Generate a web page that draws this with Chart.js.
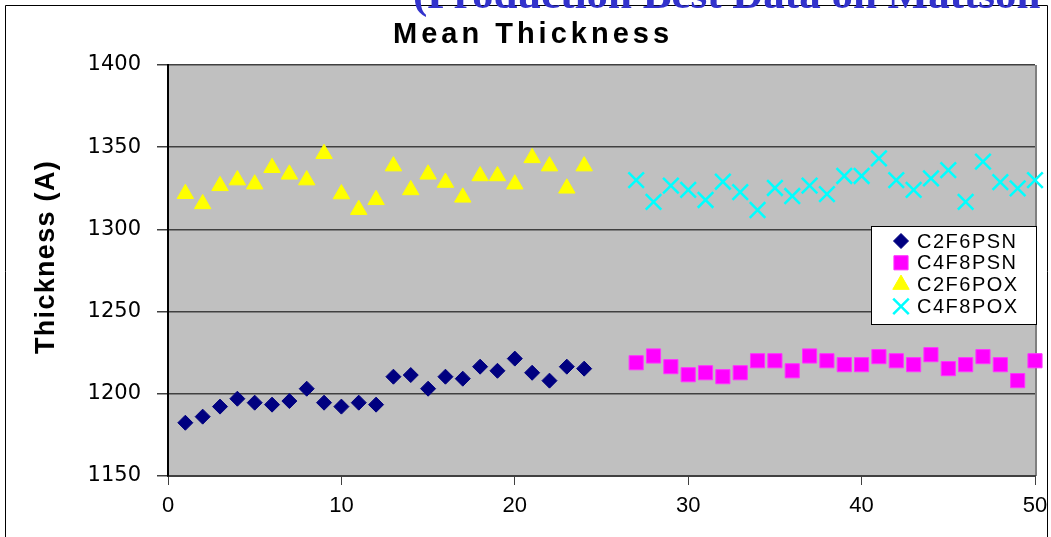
<!DOCTYPE html>
<html>
<head>
<meta charset="utf-8">
<title>Mean Thickness</title>
<script src="https://cdn.jsdelivr.net/npm/chart.js@4/dist/chart.umd.min.js"></script>
<style>
    html, body { margin: 0; padding: 0; background: #ffffff; }
    #wrap { position: relative; width: 1051px; height: 537px; }
</style>
</head>
<body>
<div id="wrap"><canvas id="thickness-chart" width="1051" height="537"></canvas></div>
<script>
// Run numbers on the x axis
const runsPsn2 = [1, 2, 3, 4, 5, 6, 7, 8, 9, 10, 11, 12, 13, 14, 15, 16, 17, 18, 19, 20, 21, 22, 23, 24];
const runsPsn4 = [27, 28, 29, 30, 31, 32, 33, 34, 35, 36, 37, 38, 39, 40, 41, 42, 43, 44, 45, 46, 47, 48, 49, 50];

// Mean thickness (A) per run
const c2f6psn = [1182.4, 1186.1, 1192.2, 1197.0, 1194.6, 1193.4, 1195.6, 1203.1, 1194.6, 1192.2, 1194.6, 1193.4,
                 1210.4, 1211.4, 1203.1, 1210.4, 1209.2, 1216.5, 1214.0, 1221.4, 1212.8, 1208.0, 1216.5, 1215.3];
const c4f8psn = [1218.9, 1223.0, 1216.5, 1211.6, 1212.8, 1210.4, 1212.8, 1220.1, 1220.1, 1214.0, 1223.0, 1220.1,
                 1217.7, 1217.7, 1222.6, 1220.1, 1217.7, 1223.8, 1215.3, 1217.7, 1222.6, 1217.7, 1208.0, 1220.1];
const c2f6pox = [1321.7, 1315.5, 1326.5, 1330.0, 1327.5, 1337.5, 1333.5, 1330.0, 1346.0, 1321.5, 1312.0, 1318.0,
                 1338.5, 1324.0, 1333.5, 1328.5, 1319.5, 1332.5, 1332.5, 1327.5, 1343.5, 1338.5, 1325.0, 1338.5];
const c4f8pox = [1330.0, 1316.7, 1326.6, 1324.0, 1317.9, 1329.0, 1322.7, 1311.8, 1325.2, 1320.3, 1326.6, 1321.5,
                 1332.5, 1332.5, 1343.2, 1330.0, 1324.0, 1331.0, 1336.1, 1316.7, 1341.2, 1328.8, 1325.0, 1330.0];

const seriesNames = ['C2F6PSN', 'C4F8PSN', 'C2F6POX', 'C4F8POX'];
const xTicks = [0, 10, 20, 30, 40, 50];
const yTicks = [1150, 1200, 1250, 1300, 1350, 1400];

const chartTitle = 'Mean Thickness';
const yTitle = 'Thickness (A)';
const headerText = '(Production Best Data on Mattson';

/**
 * Pair run numbers with values
 */
function toPoints(runs, values) {
    return runs.map((run, i) => ({ x: run, y: values[i] }));
}

/**
 * Background, frame and texts drawn around the chart
 */
const decorPlugin = {
    id: 'decor',
    beforeDraw(chart) {
        const ctx = chart.ctx;
        const area = chart.chartArea;
        ctx.save();
        ctx.fillStyle = '#ffffff';
        ctx.fillRect(0, 0, chart.width, chart.height);

        // outer frame
        ctx.strokeStyle = '#000000';
        ctx.lineWidth = 1;
        ctx.beginPath();
        ctx.moveTo(5.5, chart.height);
        ctx.lineTo(5.5, 5.5);
        ctx.lineTo(1047.5, 5.5);
        ctx.lineTo(1047.5, chart.height);
        ctx.stroke();

        // plot area
        ctx.fillStyle = '#C0C0C0';
        ctx.fillRect(area.left, area.top, area.right - area.left, area.bottom - area.top);

        // right edge of the plot area
        ctx.strokeStyle = '#808080';
        ctx.lineWidth = 2;
        ctx.beginPath();
        ctx.moveTo(area.right + 1, area.top);
        ctx.lineTo(area.right + 1, area.bottom);
        ctx.stroke();
        ctx.restore();
    },
    afterDatasetsDraw(chart) {
        const ctx = chart.ctx;
        ctx.save();

        // legend box
        ctx.fillStyle = '#ffffff';
        ctx.fillRect(871, 226, 166, 99);
        ctx.strokeStyle = '#000000';
        ctx.lineWidth = 1;
        ctx.strokeRect(871.5, 226.5, 165, 98);

        ctx.font = '20px "Liberation Sans", Arial, sans-serif';
        ctx.letterSpacing = '1.5px';
        ctx.textAlign = 'left';
        ctx.textBaseline = 'middle';
        chart.data.datasets.forEach((ds, i) => {
            const y = 241 + i * 21.8;
            ctx.fillStyle = ds.backgroundColor;
            ctx.strokeStyle = ds.borderColor;
            ctx.lineWidth = ds.borderWidth;
            Chart.helpers.drawPoint(ctx, {
                pointStyle: ds.pointStyle,
                radius: ds.pointRadius,
                borderWidth: ds.borderWidth,
                rotation: 0
            }, 901, y);
            ctx.fillStyle = '#000000';
            ctx.fillText(ds.label, 917, y + 1);
        });
        ctx.restore();
    },
    afterDraw(chart) {
        const ctx = chart.ctx;
        ctx.save();

        // chart title
        ctx.fillStyle = '#000000';
        ctx.font = 'bold 29px "Liberation Sans", Arial, sans-serif';
        ctx.letterSpacing = '4px';
        ctx.textAlign = 'center';
        ctx.textBaseline = 'middle';
        ctx.fillText(chartTitle, 533, 35);

        // y axis title
        ctx.font = 'bold 27px "Liberation Sans", Arial, sans-serif';
        ctx.letterSpacing = '1.3px';
        ctx.translate(47, 257);
        ctx.rotate(-Math.PI / 2);
        ctx.fillText(yTitle, 0, 0);
        ctx.restore();

        // page header cut off at the top
        ctx.save();
        ctx.fillStyle = '#3333CC';
        ctx.font = 'bold 43px "Liberation Serif", "Times New Roman", serif';
        ctx.textAlign = 'left';
        ctx.textBaseline = 'alphabetic';
        ctx.fillText(headerText, 413, 8);
        ctx.restore();
    }
};

/**
 * Create mean thickness chart
 */
function createThicknessChart() {
    const chartCanvas = document.getElementById('thickness-chart');

    new Chart(chartCanvas, {
        type: 'scatter',
        data: {
            datasets: [{
                label: seriesNames[0],
                data: toPoints(runsPsn2, c2f6psn),
                pointStyle: 'rectRot',
                pointRadius: 7.5,
                backgroundColor: '#000080',
                borderColor: '#000080',
                borderWidth: 1,
                clip: false
            }, {
                label: seriesNames[1],
                data: toPoints(runsPsn4, c4f8psn),
                pointStyle: 'rect',
                pointRadius: 10,
                backgroundColor: '#FF00FF',
                borderColor: '#FF33FF',
                borderWidth: 1,
                clip: false
            }, {
                label: seriesNames[2],
                data: toPoints(runsPsn2, c2f6pox),
                pointStyle: 'triangle',
                pointRadius: 9.5,
                backgroundColor: '#FFFF00',
                borderColor: '#FFFF00',
                borderWidth: 1,
                clip: false
            }, {
                label: seriesNames[3],
                data: toPoints(runsPsn4, c4f8pox),
                pointStyle: 'crossRot',
                pointRadius: 11,
                backgroundColor: '#00FFFF',
                borderColor: '#00FFFF',
                borderWidth: 2.5,
                clip: false
            }]
        },
        options: {
            responsive: false,
            animation: false,
            events: [],
            layout: {
                padding: { top: 65, right: 16, bottom: 0, left: 0 }
            },
            plugins: {
                legend: { display: false },
                title: { display: false },
                tooltip: { enabled: false }
            },
            scales: {
                x: {
                    type: 'linear',
                    position: 'bottom',
                    min: 0,
                    max: 50,
                    afterBuildTicks: scale => { scale.ticks = xTicks.map(v => ({ value: v })); },
                    afterFit: scale => {
                        scale.height = 61;
                        scale.paddingLeft = 0;
                        scale.paddingRight = 0;
                    },
                    grid: {
                        drawOnChartArea: false,
                        drawTicks: true,
                        tickLength: 9,
                        color: '#404040',
                        lineWidth: 1
                    },
                    border: { display: true, color: '#404040', width: 2 },
                    ticks: {
                        color: '#000000',
                        padding: 8,
                        maxRotation: 0,
                        callback: value => String(value),
                        font: { family: '"Liberation Sans", Arial, sans-serif', size: 22 }
                    }
                },
                y: {
                    type: 'linear',
                    min: 1150,
                    max: 1400,
                    afterBuildTicks: scale => { scale.ticks = yTicks.map(v => ({ value: v })); },
                    afterFit: scale => {
                        scale.width = 168;
                        scale.paddingTop = 0;
                        scale.paddingBottom = 0;
                    },
                    grid: {
                        drawOnChartArea: true,
                        drawTicks: true,
                        tickLength: 11,
                        color: '#404040',
                        lineWidth: 1.5
                    },
                    border: { display: true, color: '#000000', width: 2 },
                    ticks: {
                        color: '#000000',
                        padding: 16,
                        callback: value => String(value),
                        font: { family: '"DejaVu Sans", sans-serif', size: 21 }
                    }
                }
            }
        },
        plugins: [decorPlugin]
    });
}

createThicknessChart();
</script>
</body>
</html>
